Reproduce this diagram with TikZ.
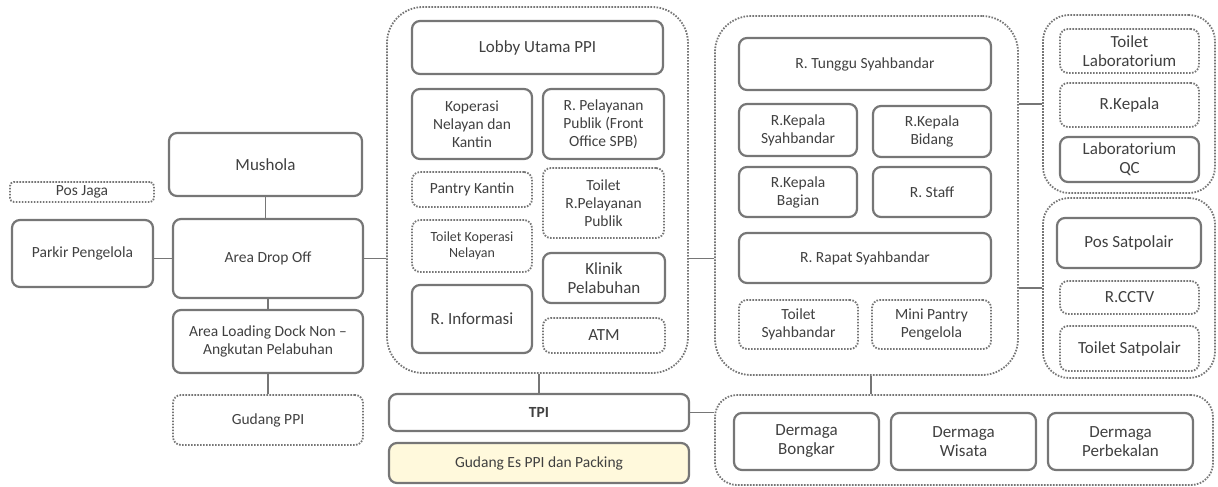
\documentclass[tikz,border=0pt]{standalone}
\usepackage{fontspec}
\setmainfont{Carlito}
\definecolor{edge}{HTML}{767676}
\definecolor{ink}{HTML}{404040}
\definecolor{icefill}{HTML}{FFF9DC}
\tikzset{
  room/.style={draw=edge, line width=2.2pt, rounded corners=8pt, text=ink,
    align=center, inner sep=1pt, font=\fontsize{15.5}{18}\selectfont},
  droom/.style={room, line width=1.8pt, dash pattern=on 1.6pt off 1.4pt},
  zone/.style={draw=edge, line width=1.8pt, dash pattern=on 1.6pt off 1.4pt,
    rounded corners=36pt, inner sep=0pt},
  link/.style={draw=edge, line width=1.3pt},
  box/.style 2 args={minimum width=#1pt, minimum height=#2pt},
  big/.style={font=\fontsize{17}{19}\selectfont},
  small/.style={font=\fontsize{14}{16}\selectfont}
}
\begin{document}
\begin{tikzpicture}[x=1pt,y=-1pt]
\useasboundingbox (0,0) rectangle (1218,487);

% outer zones
\node[zone, box={301}{366}] (mid) at (537.5,190) {};
\node[zone, box={303}{359}] (rg)  at (866.5,195.5) {};
\node[zone, box={172}{178}, rounded corners=26pt] (ur) at (1129,104) {};
\node[zone, box={172}{180}, rounded corners=26pt] (lr) at (1129,288) {};
\node[zone, box={498}{90}, rounded corners=22pt] (dg) at (964,440) {};

% left column
\node[droom, box={144}{20}, rounded corners=4pt] (posjaga) at (82,192) {Pos Jaga};
\node[room, box={141}{67}] (parkir) at (82.5,253.5) {Parkir Pengelola};
\node[room, box={193}{63}, big] (mushola) at (265.5,164.5) {Mushola};
\node[room, box={190}{79}] (dropoff) at (268,258.5) {Area Drop Off};
\node[room, box={190}{63}] (loading) at (268,341.5) {Area Loading Dock Non –\\Angkutan Pelabuhan};
\node[droom, box={190}{50}] (gudangppi) at (268,420) {Gudang PPI};

% PPI building
\node[room, box={251}{53}, big] (lobby) at (537.5,47.5) {Lobby Utama PPI};
\node[room, box={120}{70}] (koperasi) at (472,124) {Koperasi\\Nelayan dan\\Kantin};
\node[room, box={121}{70}] (pelayanan) at (603.5,124) {R. Pelayanan\\Publik (Front\\Office SPB)};
\node[droom, box={120}{35}] (pantry) at (472,189.5) {Pantry Kantin};
\node[droom, box={121}{70}] (toiletpel) at (603.5,203) {Toilet\\R.Pelayanan\\Publik};
\node[droom, box={120}{52}, small] (toiletkop) at (472,246) {Toilet Koperasi\\Nelayan};
\node[room, box={122}{50}, big] (klinik) at (604,278) {Klinik\\Pelabuhan};
\node[room, box={120}{68}, big] (info) at (472,319) {R. Informasi};
\node[droom, box={122}{35}, big] (atm) at (604,335.5) {ATM};

\node[room, box={300}{37}, font=\bfseries\fontsize{15.5}{18}\selectfont] (tpi) at (539,412.5) {TPI};
\node[room, box={300}{40}, fill=icefill] (gudanges) at (539,463) {Gudang Es PPI dan Packing};

% Syahbandar building
\node[room, box={252}{52}] (tunggu) at (865,64) {R. Tunggu Syahbandar};
\node[room, box={118}{52}] (kepsyah) at (798,130) {R.Kepala\\Syahbandar};
\node[room, box={118}{51}] (kepbid) at (932,131.5) {R.Kepala\\Bidang};
\node[room, box={118}{50}] (kepbag) at (798,192) {R.Kepala\\Bagian};
\node[room, box={118}{50}] (staff) at (932,192) {R. Staff};
\node[room, box={252}{50}] (rapat) at (865,258) {R. Rapat Syahbandar};
\node[droom, box={119}{49}] (toiletsyah) at (798.5,324.5) {Toilet\\Syahbandar};
\node[droom, box={119}{49}] (minipantry) at (931.5,324.5) {Mini Pantry\\Pengelola};

% laboratory
\node[droom, box={139}{44}, big] (toiletlab) at (1129.5,51) {Toilet\\Laboratorium};
\node[droom, box={139}{44}, big] (kepala) at (1129.5,105) {R.Kepala};
\node[room, box={139}{45}, big] (labqc) at (1129.5,159.5) {Laboratorium\\QC};

% satpolair
\node[room, box={144}{50}, big] (satpolair) at (1129,243) {Pos Satpolair};
\node[droom, box={139}{33}, big] (cctv) at (1129.5,297.5) {R.CCTV};
\node[droom, box={139}{45}, big] (toiletsat) at (1129.5,348.5) {Toilet Satpolair};

% piers
\node[room, box={145}{57}, big] (bongkar) at (806.5,441.5) {Dermaga\\Bongkar};
\node[room, box={145}{57}, big] (wisata) at (963.5,441.5) {Dermaga\\Wisata};
\node[room, box={145}{57}, big] (perbekalan) at (1120.5,441.5) {Dermaga\\Perbekalan};

% connections
\draw[link] (mushola.south) -- (mushola.south |- dropoff.north);
\draw[link] (dropoff.west -| parkir.east) -- (dropoff.west);
\draw[link] (dropoff.east) -- (dropoff.east -| mid.west);
\draw[link] (dropoff.south) -- (dropoff.south |- loading.north);
\draw[link] (loading.south) -- (loading.south |- gudangppi.north);
\draw[link] (dropoff.east -| mid.east) -- (dropoff.east -| rg.west);
\draw[link] (tpi.north |- mid.south) -- (tpi.north);
\draw[link] (tpi.east) -- (tpi.east -| dg.west);
\draw[link] (minipantry.west |- rg.south) -- (minipantry.west |- dg.north);
\draw[link] (ur.west -| rg.east) -- (ur.west);
\draw[link] (lr.west -| rg.east) -- (lr.west);
\end{tikzpicture}
\end{document}
